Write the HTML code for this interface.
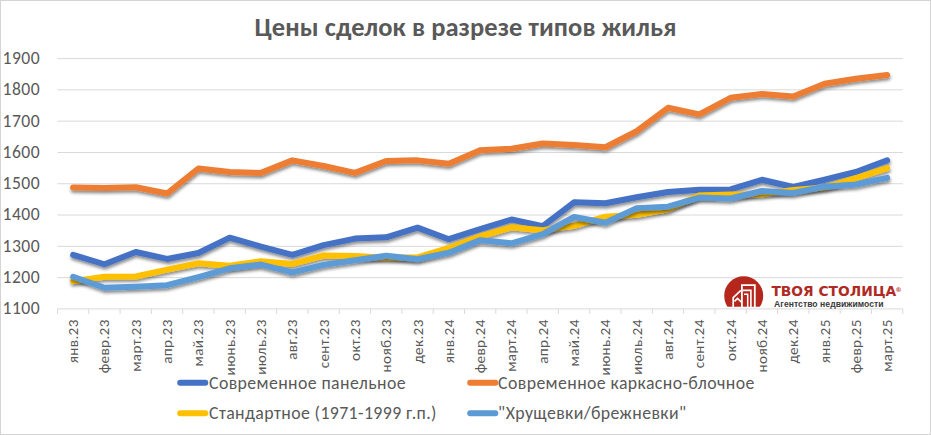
<!DOCTYPE html>
<html><head><meta charset="utf-8"><style>
html,body{margin:0;padding:0;background:#fff;}
body{width:931px;height:435px;overflow:hidden;position:relative;}
svg{position:absolute;left:0;top:0;}
.t{font-family:Carlito, 'Liberation Sans', sans-serif;font-weight:bold;font-size:26.5px;fill:#595959;}
.yl{font-family:Carlito, 'Liberation Sans', sans-serif;font-size:17.6px;letter-spacing:0.45px;fill:#595959;}
.xl{font-family:Carlito, 'Liberation Sans', sans-serif;font-size:15.2px;letter-spacing:0.35px;fill:#595959;}
.lg{font-family:Carlito, 'Liberation Sans', sans-serif;font-size:17.8px;letter-spacing:0.4px;fill:#595959;}
.lt{font-family:'DejaVu Sans',sans-serif;font-weight:bold;font-size:13.8px;fill:#B02A24;}
.lr{font-family:'DejaVu Sans',sans-serif;font-weight:bold;font-size:6.5px;fill:#C0504A;}
.ls{font-family:'Liberation Sans',sans-serif;font-weight:bold;font-size:8.6px;fill:#3a3a3a;}
</style></head><body>
<svg width="931" height="435" viewBox="0 0 931 435">
<defs>
<filter id="sh" filterUnits="userSpaceOnUse" x="0" y="0" width="931" height="435">
<feDropShadow dx="0.5" dy="2.4" stdDeviation="1.5" flood-color="#000" flood-opacity="0.45"/>
</filter>
</defs>
<rect x="0.5" y="0.5" width="930" height="434" fill="#fff" stroke="#d4d4d4" stroke-width="1"/>
<text x="254.5" y="36.3" textLength="422" class="t">Цены сделок в разрезе типов жилья</text>
<line x1="57.5" y1="58.60" x2="902.8" y2="58.60" stroke="#d9d9d9" stroke-width="1"/>
<line x1="57.5" y1="89.89" x2="902.8" y2="89.89" stroke="#d9d9d9" stroke-width="1"/>
<line x1="57.5" y1="121.17" x2="902.8" y2="121.17" stroke="#d9d9d9" stroke-width="1"/>
<line x1="57.5" y1="152.46" x2="902.8" y2="152.46" stroke="#d9d9d9" stroke-width="1"/>
<line x1="57.5" y1="183.75" x2="902.8" y2="183.75" stroke="#d9d9d9" stroke-width="1"/>
<line x1="57.5" y1="215.04" x2="902.8" y2="215.04" stroke="#d9d9d9" stroke-width="1"/>
<line x1="57.5" y1="246.32" x2="902.8" y2="246.32" stroke="#d9d9d9" stroke-width="1"/>
<line x1="57.5" y1="277.61" x2="902.8" y2="277.61" stroke="#d9d9d9" stroke-width="1"/>
<line x1="57.5" y1="308.90" x2="902.8" y2="308.90" stroke="#d9d9d9" stroke-width="1"/>
<line x1="57.50" y1="308.90" x2="57.50" y2="313.90" stroke="#d9d9d9" stroke-width="1"/>
<line x1="88.81" y1="308.90" x2="88.81" y2="313.90" stroke="#d9d9d9" stroke-width="1"/>
<line x1="120.11" y1="308.90" x2="120.11" y2="313.90" stroke="#d9d9d9" stroke-width="1"/>
<line x1="151.42" y1="308.90" x2="151.42" y2="313.90" stroke="#d9d9d9" stroke-width="1"/>
<line x1="182.73" y1="308.90" x2="182.73" y2="313.90" stroke="#d9d9d9" stroke-width="1"/>
<line x1="214.04" y1="308.90" x2="214.04" y2="313.90" stroke="#d9d9d9" stroke-width="1"/>
<line x1="245.34" y1="308.90" x2="245.34" y2="313.90" stroke="#d9d9d9" stroke-width="1"/>
<line x1="276.65" y1="308.90" x2="276.65" y2="313.90" stroke="#d9d9d9" stroke-width="1"/>
<line x1="307.96" y1="308.90" x2="307.96" y2="313.90" stroke="#d9d9d9" stroke-width="1"/>
<line x1="339.27" y1="308.90" x2="339.27" y2="313.90" stroke="#d9d9d9" stroke-width="1"/>
<line x1="370.57" y1="308.90" x2="370.57" y2="313.90" stroke="#d9d9d9" stroke-width="1"/>
<line x1="401.88" y1="308.90" x2="401.88" y2="313.90" stroke="#d9d9d9" stroke-width="1"/>
<line x1="433.19" y1="308.90" x2="433.19" y2="313.90" stroke="#d9d9d9" stroke-width="1"/>
<line x1="464.50" y1="308.90" x2="464.50" y2="313.90" stroke="#d9d9d9" stroke-width="1"/>
<line x1="495.80" y1="308.90" x2="495.80" y2="313.90" stroke="#d9d9d9" stroke-width="1"/>
<line x1="527.11" y1="308.90" x2="527.11" y2="313.90" stroke="#d9d9d9" stroke-width="1"/>
<line x1="558.42" y1="308.90" x2="558.42" y2="313.90" stroke="#d9d9d9" stroke-width="1"/>
<line x1="589.73" y1="308.90" x2="589.73" y2="313.90" stroke="#d9d9d9" stroke-width="1"/>
<line x1="621.03" y1="308.90" x2="621.03" y2="313.90" stroke="#d9d9d9" stroke-width="1"/>
<line x1="652.34" y1="308.90" x2="652.34" y2="313.90" stroke="#d9d9d9" stroke-width="1"/>
<line x1="683.65" y1="308.90" x2="683.65" y2="313.90" stroke="#d9d9d9" stroke-width="1"/>
<line x1="714.96" y1="308.90" x2="714.96" y2="313.90" stroke="#d9d9d9" stroke-width="1"/>
<line x1="746.26" y1="308.90" x2="746.26" y2="313.90" stroke="#d9d9d9" stroke-width="1"/>
<line x1="777.57" y1="308.90" x2="777.57" y2="313.90" stroke="#d9d9d9" stroke-width="1"/>
<line x1="808.88" y1="308.90" x2="808.88" y2="313.90" stroke="#d9d9d9" stroke-width="1"/>
<line x1="840.19" y1="308.90" x2="840.19" y2="313.90" stroke="#d9d9d9" stroke-width="1"/>
<line x1="871.49" y1="308.90" x2="871.49" y2="313.90" stroke="#d9d9d9" stroke-width="1"/>
<line x1="902.80" y1="308.90" x2="902.80" y2="313.90" stroke="#d9d9d9" stroke-width="1"/>
<text x="40" y="64.00" text-anchor="end" class="yl">1900</text>
<text x="40" y="95.29" text-anchor="end" class="yl">1800</text>
<text x="40" y="126.58" text-anchor="end" class="yl">1700</text>
<text x="40" y="157.86" text-anchor="end" class="yl">1600</text>
<text x="40" y="189.15" text-anchor="end" class="yl">1500</text>
<text x="40" y="220.44" text-anchor="end" class="yl">1400</text>
<text x="40" y="251.72" text-anchor="end" class="yl">1300</text>
<text x="40" y="283.01" text-anchor="end" class="yl">1200</text>
<text x="40" y="314.30" text-anchor="end" class="yl">1100</text>
<text transform="translate(78.15,319.3) rotate(-90)" text-anchor="end" class="xl">янв.23</text>
<text transform="translate(109.46,319.3) rotate(-90)" text-anchor="end" class="xl">февр.23</text>
<text transform="translate(140.77,319.3) rotate(-90)" text-anchor="end" class="xl">март.23</text>
<text transform="translate(172.08,319.3) rotate(-90)" text-anchor="end" class="xl">апр.23</text>
<text transform="translate(203.38,319.3) rotate(-90)" text-anchor="end" class="xl">май.23</text>
<text transform="translate(234.69,319.3) rotate(-90)" text-anchor="end" class="xl">июнь.23</text>
<text transform="translate(266.00,319.3) rotate(-90)" text-anchor="end" class="xl">июль.23</text>
<text transform="translate(297.31,319.3) rotate(-90)" text-anchor="end" class="xl">авг.23</text>
<text transform="translate(328.61,319.3) rotate(-90)" text-anchor="end" class="xl">сент.23</text>
<text transform="translate(359.92,319.3) rotate(-90)" text-anchor="end" class="xl">окт.23</text>
<text transform="translate(391.23,319.3) rotate(-90)" text-anchor="end" class="xl">нояб.23</text>
<text transform="translate(422.54,319.3) rotate(-90)" text-anchor="end" class="xl">дек.23</text>
<text transform="translate(453.84,319.3) rotate(-90)" text-anchor="end" class="xl">янв.24</text>
<text transform="translate(485.15,319.3) rotate(-90)" text-anchor="end" class="xl">февр.24</text>
<text transform="translate(516.46,319.3) rotate(-90)" text-anchor="end" class="xl">март.24</text>
<text transform="translate(547.76,319.3) rotate(-90)" text-anchor="end" class="xl">апр.24</text>
<text transform="translate(579.07,319.3) rotate(-90)" text-anchor="end" class="xl">май.24</text>
<text transform="translate(610.38,319.3) rotate(-90)" text-anchor="end" class="xl">июнь.24</text>
<text transform="translate(641.69,319.3) rotate(-90)" text-anchor="end" class="xl">июль.24</text>
<text transform="translate(672.99,319.3) rotate(-90)" text-anchor="end" class="xl">авг.24</text>
<text transform="translate(704.30,319.3) rotate(-90)" text-anchor="end" class="xl">сент.24</text>
<text transform="translate(735.61,319.3) rotate(-90)" text-anchor="end" class="xl">окт.24</text>
<text transform="translate(766.92,319.3) rotate(-90)" text-anchor="end" class="xl">нояб.24</text>
<text transform="translate(798.22,319.3) rotate(-90)" text-anchor="end" class="xl">дек.24</text>
<text transform="translate(829.53,319.3) rotate(-90)" text-anchor="end" class="xl">янв.25</text>
<text transform="translate(860.84,319.3) rotate(-90)" text-anchor="end" class="xl">февр.25</text>
<text transform="translate(892.15,319.3) rotate(-90)" text-anchor="end" class="xl">март.25</text>
<polyline points="73.15,254.86 104.46,264.25 135.77,252.04 167.08,258.93 198.38,252.98 229.69,237.65 261.00,246.72 292.31,254.86 323.61,245.16 354.92,238.59 386.23,237.34 417.54,227.64 448.84,239.22 480.15,229.20 511.46,219.50 542.76,226.08 574.07,202.30 605.38,203.24 636.69,197.29 667.99,191.97 699.30,189.78 730.61,189.47 761.92,179.77 793.22,186.97 824.53,179.77 855.84,171.95 887.15,160.37" fill="none" stroke="#4472C4" stroke-width="6.0" stroke-linejoin="round" stroke-linecap="round" filter="url(#sh)"/>
<polyline points="73.15,187.59 104.46,187.90 135.77,187.28 167.08,193.54 198.38,168.51 229.69,171.95 261.00,172.89 292.31,160.37 323.61,166.00 354.92,172.89 386.23,161.00 417.54,160.37 448.84,163.81 480.15,150.36 511.46,148.80 542.76,143.48 574.07,145.04 605.38,147.23 636.69,131.27 667.99,107.81 699.30,114.38 730.61,97.80 761.92,94.04 793.22,96.54 824.53,83.72 855.84,78.71 887.15,74.96" fill="none" stroke="#ED7D31" stroke-width="6.0" stroke-linejoin="round" stroke-linecap="round" filter="url(#sh)"/>
<polyline points="73.15,281.14 104.46,276.76 135.77,276.45 167.08,269.56 198.38,263.31 229.69,265.81 261.00,261.12 292.31,263.93 323.61,255.49 354.92,256.11 386.23,257.68 417.54,257.36 448.84,247.98 480.15,236.40 511.46,227.33 542.76,230.14 574.07,225.76 605.38,216.69 636.69,214.81 667.99,209.18 699.30,195.41 730.61,194.47 761.92,194.16 793.22,190.09 824.53,187.59 855.84,178.21 887.15,168.19" fill="none" stroke="#FFC000" stroke-width="6.0" stroke-linejoin="round" stroke-linecap="round" filter="url(#sh)"/>
<polyline points="73.15,276.76 104.46,287.71 135.77,286.77 167.08,285.21 198.38,277.07 229.69,268.31 261.00,264.56 292.31,272.38 323.61,264.87 354.92,260.18 386.23,255.80 417.54,259.24 448.84,252.67 480.15,240.15 511.46,243.28 542.76,234.21 574.07,217.00 605.38,222.63 636.69,208.24 667.99,206.68 699.30,197.60 730.61,198.54 761.92,191.03 793.22,192.91 824.53,186.65 855.84,184.46 887.15,177.89" fill="none" stroke="#5B9BD5" stroke-width="6.0" stroke-linejoin="round" stroke-linecap="round" filter="url(#sh)"/>
<line x1="180.2" y1="382.8" x2="205.3" y2="382.8" stroke="#4472C4" stroke-width="6.0" stroke-linecap="round"/>
<text x="209.0" y="388.8" textLength="197.0" class="lg">Современное панельное</text>
<line x1="470.2" y1="382.8" x2="495.3" y2="382.8" stroke="#ED7D31" stroke-width="6.0" stroke-linecap="round"/>
<text x="498.1" y="388.8" textLength="256.7" class="lg">Современное каркасно-блочное</text>
<line x1="180.2" y1="413.3" x2="205.3" y2="413.3" stroke="#FFC000" stroke-width="6.0" stroke-linecap="round"/>
<text x="209.0" y="419.3" textLength="227.9" class="lg">Стандартное (1971-1999 г.п.)</text>
<line x1="470.2" y1="413.3" x2="495.3" y2="413.3" stroke="#5B9BD5" stroke-width="6.0" stroke-linecap="round"/>
<text x="498.1" y="419.3" textLength="188.4" class="lg">"Хрущевки/брежневки"</text>

<g transform="translate(0,0)">
  <clipPath id="lc"><rect x="720" y="270" width="50" height="36.7"/></clipPath>
  <circle cx="743.7" cy="295.8" r="19.5" fill="#B5271D" clip-path="url(#lc)"/>
  <g fill="none" stroke="#fff" stroke-linejoin="miter" stroke-linecap="butt">
    <path d="M741.9 307 V285.2 H754.8 V307" stroke-width="1.8"/>
    <path d="M742.6 290.4 H750.9 V307" stroke-width="1.6"/>
    <path d="M744 294.3 H747.7 V307" stroke-width="1.5"/>
    <path d="M733.2 307 V297.6 L740.9 290.4" stroke-width="1.7"/>
    <path d="M734.5 301.4 L737.5 298.4 L742 302.8" stroke-width="1.6"/>
  </g>
  <text x="771.4" y="296.3" textLength="124.8" class="lt">ТВОЯ СТОЛИЦА</text>
  <text x="895.2" y="292" class="lr">®</text>
  <text x="774" y="306.6" textLength="109.6" class="ls">Агентство недвижимости</text>
</g>

</svg>
</body></html>
